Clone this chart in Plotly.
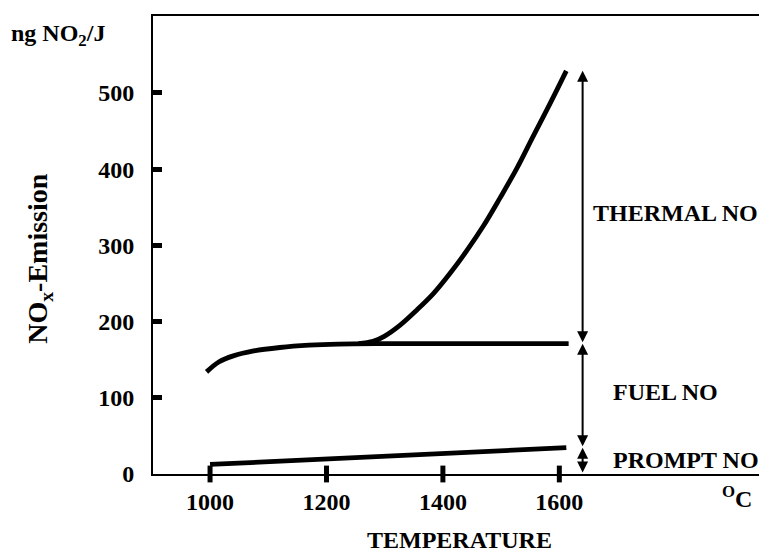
import plotly.graph_objects as go

# ---- data ----
fuel_x = [994, 1015, 1040, 1075, 1120, 1170, 1220, 1300, 1400, 1500, 1616]
fuel_y = [134, 147, 155, 161.5, 166, 169, 170.5, 171, 171, 171, 171]

thermal_x = [1255, 1280, 1300, 1326, 1355, 1384, 1412, 1441, 1470, 1498, 1527, 1555, 1584, 1612]
thermal_y = [171, 174, 181, 195, 215, 237, 263, 293, 326, 362, 401, 443, 486, 529]

prompt_x = [1000, 1612]
prompt_y = [12.5, 34.5]

x_ticks = [1000, 1200, 1400, 1600]
y_ticks = [0, 100, 200, 300, 400, 500]

arrow_x = 1640
labels = ["THERMAL NO", "FUEL NO", "PROMPT NO"]

FONT = "Liberation Serif"
FS = 24

fig = go.Figure()
line = dict(color="black", width=4.8)
fig.add_trace(go.Scatter(x=fuel_x, y=fuel_y, mode="lines", line=dict(**line, shape="spline"),
                         hoverinfo="skip", showlegend=False))
fig.add_trace(go.Scatter(x=thermal_x, y=thermal_y, mode="lines", line=dict(**line, shape="spline"),
                         hoverinfo="skip", showlegend=False))
fig.add_trace(go.Scatter(x=prompt_x, y=prompt_y, mode="lines", line=line,
                         hoverinfo="skip", showlegend=False))
# x tick marks crossing the axis
fig.add_trace(go.Scatter(x=x_ticks, y=[0] * len(x_ticks), mode="markers",
                         marker=dict(symbol="line-ns-open", size=12, color="black",
                                     line=dict(color="black", width=5)),
                         cliponaxis=False, hoverinfo="skip", showlegend=False))

# arrows
top = thermal_y[-1]
mid = fuel_y[-1]
low = prompt_y[-1]
for y0, y1 in [(mid, top), (low, mid), (0, low)]:
    fig.add_annotation(x=arrow_x, y=y1, ax=arrow_x, ay=y0, xref="x", yref="y", axref="x", ayref="y",
                       text="", showarrow=True, arrowhead=2, arrowside="end+start",
                       arrowsize=1.1, arrowwidth=2, arrowcolor="black")

lab_font = dict(family=FONT, size=FS, color="black", weight="bold")
fig.add_annotation(x=0.722, xref="paper", y=342, yref="y", text=labels[0], showarrow=False,
                   xanchor="left", yanchor="middle", font=lab_font)
fig.add_annotation(x=0.755, xref="paper", y=108, yref="y", text=labels[1], showarrow=False,
                   xanchor="left", yanchor="middle", font=lab_font)
fig.add_annotation(x=0.755, xref="paper", y=18, yref="y", text=labels[2], showarrow=False,
                   xanchor="left", yanchor="middle", font=lab_font)

# axis texts
fig.add_annotation(x=0.5066, xref="paper", y=-0.144, yref="paper", text="TEMPERATURE", showarrow=False,
                   xanchor="center", yanchor="middle", font=lab_font)
fig.add_annotation(x=0.992, xref="paper", y=-0.05, yref="paper", text="<sup>O</sup>C", showarrow=False,
                   xanchor="right", yanchor="middle", font=lab_font)
fig.add_annotation(x=-0.238, xref="paper", y=0.958, yref="paper", text="ng NO<sub>2</sub>/J", showarrow=False,
                   xanchor="left", yanchor="middle", font=lab_font)
fig.add_annotation(x=-0.1865, xref="paper", y=0.47, yref="paper", text="NO<sub>x</sub>-Emission",
                   showarrow=False, textangle=-90, xanchor="center", yanchor="middle",
                   font=dict(family=FONT, size=28, color="black", weight="bold"))

fig.update_layout(
    width=759, height=554,
    margin=dict(l=153, r=0, t=16, b=80),
    plot_bgcolor="white", paper_bgcolor="white",
    font=dict(family=FONT, size=FS, color="black", weight="bold"),
    xaxis=dict(range=[902, 1943], tickvals=x_ticks, showgrid=False, zeroline=False,
               showline=True, linecolor="black", linewidth=2, mirror=True,
               ticks="", ticklabelstandoff=5),
    yaxis=dict(range=[0, 601], tickvals=y_ticks, showgrid=False, zeroline=False,
               showline=True, linecolor="black", linewidth=2,
               ticks="inside", ticklen=9, tickwidth=5, tickcolor="black", ticklabelstandoff=12),
)

fig.write_html("out.html")
